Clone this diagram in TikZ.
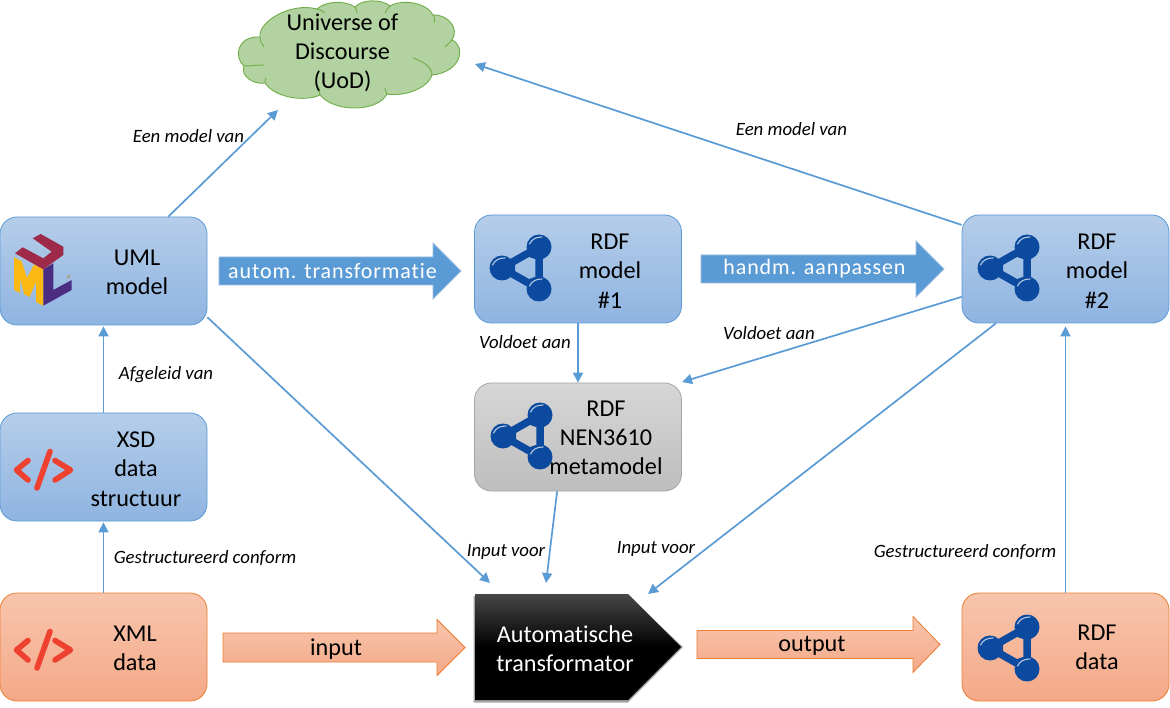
\documentclass[tikz,border=0pt]{standalone}
\usepackage{fontspec}
\setmainfont[Ligatures=NoCommon]{Carlito}
\newfontfamily\spacedfont[LetterSpace=4,Ligatures=NoCommon]{Carlito}
\usetikzlibrary{arrows.meta,calc}
\definecolor{connblue}{HTML}{5B9BD5}
\definecolor{boxtop}{HTML}{B5CDE9}
\definecolor{boxbot}{HTML}{8FB4E1}
\definecolor{orgtop}{HTML}{F8C5AC}
\definecolor{orgbot}{HTML}{F4A988}
\definecolor{orgline}{HTML}{ED7D31}
\definecolor{graytop}{HTML}{D6D6D6}
\definecolor{graybot}{HTML}{BEBEBE}
\definecolor{grayline}{HTML}{A5A5A5}
\definecolor{cloudfill}{HTML}{B2D3A1}
\definecolor{cloudline}{HTML}{70AD47}
\definecolor{rdfblue}{HTML}{0B4A9E}
\definecolor{tagred}{HTML}{EE4130}
\definecolor{umlred}{HTML}{9E2A4A}
\definecolor{umlyellow}{HTML}{FDB913}
\definecolor{umlpurple}{HTML}{4A2D80}
\tikzset{
  x=1pt,y=-1pt,
  box/.style={rectangle,rounded corners=17pt,minimum width=207pt,minimum height=108pt,inner sep=0pt,line width=0.8pt},
  bluebox/.style={box,draw=connblue,top color=boxtop,bottom color=boxbot},
  orangebox/.style={box,draw=orgline,top color=orgtop,bottom color=orgbot},
  graybox/.style={box,draw=grayline,top color=graytop,bottom color=graybot},
  boxtext/.style={font=\fontsize{24.2}{29.3}\selectfont,align=center,inner sep=0pt,yshift=-1pt},
  lbl/.style={font=\fontsize{18.8}{22}\selectfont\itshape,inner sep=0pt,yshift=-1pt},
  conn/.style={draw=connblue,line width=1.7pt,-{Triangle[length=10pt,width=10pt]}},
  pics/rdficon/.style={code={
    \draw[rdfblue,line width=7.5pt,line join=round] (0,0) -- (37,-21) -- (37,21) -- cycle;
    \fill[rdfblue] (0,0) -- (13,-6) -- (13,6) -- cycle;
    \fill[rdfblue] (37,-21) -- (33,-9) -- (23,-12.5) -- cycle;
    \fill[rdfblue] (37,21) -- (33,9) -- (23,12.5) -- cycle;
    \foreach \cx/\cy in {0/0,37/-21,37/21}{
      \fill[rdfblue] (\cx,\cy) circle[radius=12.5];
      \draw[white!70!rdfblue,line width=1.1pt,line cap=round] (\cx-9.5,\cy-3) .. controls (\cx-7,\cy-8) and (\cx-3,\cy-10) .. (\cx+3,\cy-10);
    }
  }},
  pics/codeicon/.style={code={
    \draw[tagred,line width=5.6pt,line cap=round,line join=round]
      (-15.5,-9.5) -- (-27,0) -- (-15.5,10)
      (6.5,-18.5) -- (-6.5,18)
      (11.5,-9.5) -- (27,0) -- (11.5,10);
  }},
}
\newcommand{\blockarrow}[7]{% x0 xh xt yc shalf hhalf style
  \path[#7] (#1,#4-#5) -- (#2,#4-#5) -- (#2,#4-#6) -- (#3,#4) -- (#2,#4+#6) -- (#2,#4+#5) -- (#1,#4+#5) -- cycle;
}
\begin{document}
\begin{tikzpicture}
\useasboundingbox (0,0) rectangle (1170,708);
\fill[white] (0,0) rectangle (1170,708);

% cloud
\draw[draw=cloudline,fill=cloudfill,line width=0.9pt]
  (244,66) .. controls (234,58) and (236,36) .. (260,37)
  .. controls (258,22) and (290,2) .. (317,9)
  .. controls (325,1) and (345,0) .. (355,7)
  .. controls (362,-1) and (382,-1) .. (390,6)
  .. controls (402,-1) and (426,2) .. (433,15)
  .. controls (447,14) and (460,28) .. (452,40)
  .. controls (466,46) and (462,72) .. (432,75)
  .. controls (428,88) and (405,97) .. (387,94)
  .. controls (378,112) and (335,113) .. (320,95)
  .. controls (305,102) and (275,98) .. (265,83)
  .. controls (254,85) and (240,76) .. (244,66) -- cycle;
\draw[cloudline,line width=0.9pt]
  (244,66) .. controls (250,66) and (258,65) .. (264,65)
  (260,37) .. controls (260,41) and (262,44) .. (264,47)
  (317,9) .. controls (320,10) and (323,11) .. (325,13)
  (355,7) .. controls (356,9) and (357,11) .. (357,13)
  (390,6) .. controls (388,8) and (386,10) .. (385,13)
  (433,15) .. controls (435,18) and (435,20) .. (434,23)
  (452,40) .. controls (450,42) and (448,44) .. (445,47)
  (413,58) .. controls (425,62) and (432,68) .. (432,75)
  (387,94) .. controls (386,91) and (385,90) .. (385,88)
  (320,95) .. controls (319,92) and (319,90) .. (319,87)
  (265,83) .. controls (265,82) and (265,80) .. (266,78);
\node[boxtext] (uod) at (342.5,52) {Universe of\\Discourse\\(UoD)};

% boxes
\node[bluebox] (uml) at (103.5,271) {};
\node[bluebox] (rdfa) at (578,269) {};
\node[bluebox] (rdfb) at (1065.5,269) {};
\node[graybox] (meta) at (578,437) {};
\node[bluebox] (xsd) at (103.5,467) {};
\node[orangebox] (xml) at (103.5,647) {};
\node[orangebox] (rdfd) at (1065.5,647) {};

% UML icon
\fill[umlyellow] (14,257.3) -- (21.5,261) -- (27,278) -- (34,264.5) -- (43.3,269.3) -- (43.3,305.7) -- (36,302) -- (36,282) -- (29.5,297) -- (24,294) -- (20,278) -- (20,293) -- (14,290) -- cycle;
\fill[umlpurple] (43.3,269.3) -- (53.3,263.3) -- (53.3,290) -- (71.7,280) -- (71.7,290) -- (43.3,305.7) -- cycle;
\fill[umlred] (32.7,238.3) -- (40.7,234) -- (63.3,246.7) -- (63.3,255) -- (43.3,269.3) -- (15,253.3) -- (22.7,247.3) -- (43.3,258.3) -- (51.7,251.7) -- cycle;
\fill[gray!70] (68.7,276.7) circle[radius=2];

\pic at (502,268) {rdficon};
\pic at (990,268) {rdficon};
\pic at (503,436) {rdficon};
\pic at (990,648) {rdficon};
\pic at (43.5,470) {codeicon};
\pic at (43.5,650) {codeicon};

% box text
\node[boxtext] (umlt) at (137,271.5) {UML\\model};
\node[boxtext] (rdfat) at (610,270) {RDF\\model\\\#1};
\node[boxtext] (rdfbt) at (1097,270) {RDF\\model\\\#2};
\node[boxtext] (metat) at (606,437) {RDF\\NEN3610\\metamodel};
\node[boxtext] (xsdt) at (136,468) {XSD\\data\\structuur};
\node[boxtext] (xmlt) at (135,647.5) {XML\\data};
\node[boxtext] (rdfdt) at (1097,646.5) {RDF\\data};

% transformer
\fill[black,opacity=.35] (473.5,596) -- (628,596) -- (683,647) -- (628,702.5) -- (473.5,702.5) -- cycle;
\shade[top color=black!72,bottom color=black,middle color=black] (475,594) -- (628,594) -- (681,647) -- (628,700) -- (475,700) -- cycle;
\node[boxtext,text=white] (trans) at (565,647.5) {Automatische\\transformator};

% block arrows
\blockarrow{219}{433}{461}{271}{14}{28}{draw=boxbot!90!white,line width=.8pt,fill=connblue}
\node[font=\fontsize{22}{26}\spacedfont,text=white,inner sep=0pt] (auto) at (332.5,271) {autom. transformatie};
\blockarrow{701}{916}{944}{269}{14}{28}{draw=boxbot!90!white,line width=.8pt,fill=connblue}
\node[font=\fontsize{22}{26}\spacedfont,text=white,inner sep=0pt] (hand) at (814.5,269) {handm. aanpassen};
\blockarrow{223}{437}{465}{647.5}{14.5}{28}{draw=orgline,line width=.8pt,top color=orgtop,bottom color=orgbot}
\node[boxtext] (inp) at (336,648) {input};
\blockarrow{697}{913}{940}{644.5}{14}{28}{draw=orgline,line width=.8pt,top color=orgtop,bottom color=orgbot}
\node[boxtext] (outp) at (812,645) {output};

% free connector ends
\coordinate (uodin) at (278,110);
\coordinate (uodright) at (475,64);
\coordinate (metaright) at (682,382);
\coordinate (transa) at (490,583);
\coordinate (transb) at (546,583);
\coordinate (transc) at (648,594);

% connectors
\draw[conn] (uml.40) -- (uodin);
\draw[conn] (rdfb.157) -- (uodright);
\draw[conn] (rdfa.south) -- (meta.north);
\draw[conn] (rdfb.195.6) -- (metaright);
\draw[conn] (meta.249.7) -- (transb);
\draw[conn] (uml.-24.4) -- (transa);
\draw[conn] (rdfb.218.7) -- (transc);
\draw[conn] (xsd.north) -- ($(uml.south)+(0,1)$);
\draw[conn] (xml.north) -- ($(xsd.south)+(0,1)$);
\draw[conn] (rdfd.north) -- ($(rdfb.south)+(0,3)$);

% labels
\node[lbl] (la) at (188.5,135) {Een model van};
\node[lbl] (lb) at (791.5,128) {Een model van};
\node[lbl] (lc) at (166,374) {Afgeleid van};
\node[lbl] (ld) at (525,341) {Voldoet aan};
\node[lbl] (le) at (769,332) {Voldoet aan};
\node[lbl] (lf) at (506,551) {Input voor};
\node[lbl] (lg) at (656,548) {Input voor};
\node[lbl] (lh) at (205,557) {Gestructureerd conform};
\node[lbl] (li) at (965,551) {Gestructureerd conform};
\end{tikzpicture}
\end{document}
